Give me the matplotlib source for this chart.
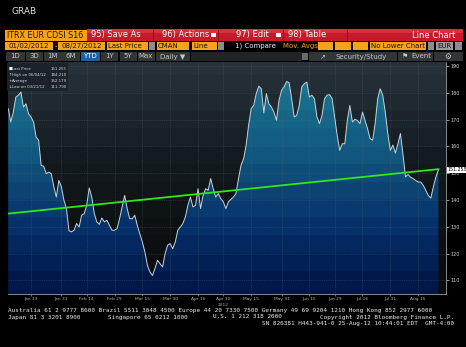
import numpy as np
import pandas as pd
import matplotlib
matplotlib.use("Agg")
import matplotlib.pyplot as plt
from matplotlib.patches import Rectangle, PathPatch
from matplotlib.colors import LinearSegmentedColormap

# ITRX EUR CDSI S16, daily last price, 01/02/2012 - 08/27/2012
dates = pd.bdate_range("2012-01-02", "2012-08-27")
prices = [
    174.1, 169.1, 172.8, 178.4, 179.1, 180.3, 174.7, 175.9, 172.2, 171.0,
    169.1, 163.5, 162.3, 152.9, 152.6, 149.8, 150.4, 149.8, 145.0, 141.1,
    147.3, 144.9, 139.9, 136.8, 128.5, 128.1, 128.7, 131.2, 129.9, 134.3,
    134.9, 138.0, 144.5, 141.1, 134.9, 131.8, 130.9, 133.3, 131.8, 132.4,
    130.5, 128.7, 128.7, 129.3, 133.0, 137.4, 141.7, 136.8, 133.0, 133.0,
    134.3, 130.5, 127.4, 124.3, 120.6, 115.6, 113.1, 111.79, 114.5, 117.5,
    116.2, 115.0, 120.0, 123.1, 123.7, 121.8, 124.3, 128.7, 129.9, 131.2,
    133.7, 138.0, 141.1, 137.4, 138.0, 144.2, 136.8, 141.7, 144.2, 143.6,
    148.0, 144.2, 141.1, 142.4, 140.5, 139.3, 136.8, 139.3, 140.2, 141.1,
    142.4, 148.0, 153.0, 155.4, 160.4, 167.9, 174.1, 175.3, 179.7, 182.5,
    181.5, 172.5, 179.7, 175.9, 174.7, 172.8, 169.7, 177.2, 180.9, 182.2,
    184.21, 183.8, 177.8, 171.0, 171.6, 175.3, 182.2, 183.4, 184.0, 178.4,
    179.1, 177.8, 171.0, 168.5, 171.6, 177.8, 179.1, 179.3, 177.8, 171.0,
    164.1, 158.5, 161.0, 161.0, 169.7, 175.3, 169.1, 170.1, 169.7, 168.5,
    172.8, 169.7, 166.6, 162.9, 162.3, 168.5, 177.8, 181.5, 179.1, 172.8,
    164.8, 158.5, 160.5, 157.5, 161.0, 164.8, 157.0, 148.6, 149.5, 148.5,
    148.0, 147.3, 146.7, 146.7, 145.5, 143.6, 141.7, 140.7, 144.9, 148.6,
    151.255,
]
trend_values = [134.9, 151.5]  # user drawn trend line, first and last day

tick_dates = ["2012-01-13", "2012-01-31", "2012-02-14", "2012-02-29", "2012-03-15",
              "2012-03-30", "2012-04-16", "2012-04-30", "2012-05-15", "2012-05-31",
              "2012-06-15", "2012-06-29", "2012-07-16", "2012-07-31", "2012-08-15"]
tick_labels = ["Jan 13", "Jan 31", "Feb 14", "Feb 29", "Mar 15", "Mar 30", "Apr 16",
               "Apr 30", "May 15", "May 31", "Jun 15", "Jun 29", "Jul 16", "Jul 31",
               "Aug 15"]
y_ticks = [110, 120, 130, 140, 150, 160, 170, 180, 190]

legend_rows = [("Last Price", "151.255"), ("High on 06/04/12", "184.210"),
               ("Average", "152.179"), ("Low on 03/21/12", "111.790")]

W, H = 466, 347
fig = plt.figure(figsize=(W / 100, H / 100), dpi=100, facecolor="black")


def fx(x):
    return x / W


def fy(y):
    return 1 - y / H


def box(x, y, w, h, color):
    fig.add_artist(Rectangle((fx(x), fy(y + h)), w / W, h / H, transform=fig.transFigure,
                             facecolor=color, edgecolor="none"))


def txt(x, y, s, size=6, color="white", ha="left", **kw):
    fig.text(fx(x), fy(y), s, fontsize=size, color=color, ha=ha, va="center", **kw)


ORANGE = "#f8a21c"
RED = "#c41a2b"
GREY_BTN = "#333436"

txt(11, 11, "GRAB", size=6.5, color="#e0e0e0")

# row 1: title + red function bar
box(5, 29.5, 82, 11, ORANGE)
txt(7, 35, "ITRX EUR CDSI S16", size=5.8, color="#1a1a1a")
box(87, 29.5, 376, 11, RED)
box(87, 29.5, 376, 3, "#d8303e")
for sx in [153, 218, 283, 347]:
    box(sx, 29.5, 1, 11, "#8a0f1c")
txt(91, 35, "95) Save As", size=6)
txt(162, 35, "96) Actions", size=6)
txt(236, 35, "97) Edit", size=6)
txt(288, 35, "98) Table", size=6)
txt(455, 35, "Line Chart", size=6, ha="right")
box(211, 33.5, 5, 3, "white")
box(276, 33.5, 5, 3, "white")

# row 2: date range / options
for (x0, x1) in [(5, 53), (58, 105), (107, 148), (157, 189), (192, 217),
                 (318, 333), (335, 351), (353, 368), (370, 426)]:
    box(x0, 41.5, x1 - x0, 8.5, ORANGE)
for (x0, x1) in [(149, 155), (218, 224), (428, 434), (455, 462)]:
    box(x0, 41.5, x1 - x0, 8.5, "#8c8c8c")
box(436, 41.5, 17, 8.5, "#9a9a9a")
txt(29, 46, "01/02/2012", size=5, color="#111111", ha="center")
txt(55.5, 46, "-", size=5, color="white", ha="center")
txt(81.5, 46, "08/27/2012", size=5, color="#111111", ha="center")
txt(108, 46, "Last Price", size=5, color="#111111")
txt(158, 46, "CMAN", size=5, color="#111111")
txt(193, 46, "Line", size=5, color="#111111")
txt(235, 46, "1) Compare", size=5, color="#e8e8e8")
txt(283, 46, "Mov. Avgs", size=5, color=ORANGE)
txt(371, 46, "No Lower Chart", size=5, color="#111111")
txt(444.5, 46, "EUR", size=5, color="#111111", ha="center")

# row 3: period buttons
buttons = [(5, 25, "1D"), (25, 43, "3D"), (43, 62, "1M"), (62, 80, "6M"),
           (80, 100, "YTD"), (100, 119, "1Y"), (119, 137, "5Y"), (137, 155, "Max")]
for x0, x1, lab in buttons:
    box(x0 + 0.5, 52, x1 - x0 - 1, 9, "#1f5f9e" if lab == "YTD" else GREY_BTN)
    txt((x0 + x1) / 2, 56.5, lab, size=5, color="white" if lab == "YTD" else "#c8c8c8",
        ha="center")
box(155.5, 52, 34, 9, GREY_BTN)
txt(160, 56.5, "Daily \u25bc", size=5, color="#c8c8c8")
box(190.5, 52, 111, 9, "#222324")
box(302, 53, 6, 7, "#6a6a6a")
box(308.5, 52, 88, 9, GREY_BTN)
txt(320, 56.5, "\u2197", size=5, color="#c8c8c8")
txt(335, 56.5, "Security/Study", size=5, color="#c8c8c8")
box(397.5, 52, 35, 9, GREY_BTN)
txt(402, 56.5, "\u2691", size=5, color="#c8c8c8")
txt(411, 56.5, "Event", size=5, color="#c8c8c8")
box(433.5, 52, 29, 9, GREY_BTN)
txt(448, 56.5, "\u2699", size=5.5, color="#c8c8c8", ha="center")

# chart
ax = fig.add_axes([fx(8), fy(294), (446 - 8) / W, (294 - 62) / H])
x = np.arange(len(prices))
ymin, ymax = 104.9, 191.5
ax.set_xlim(-0.1, 173)
ax.set_ylim(ymin, ymax)
ax.set_facecolor("black")

levels = np.arange(ymin, ymax, 0.1)
steps = np.floor(levels / 6.67) * 6.67
bg_cmap = LinearSegmentedColormap.from_list(
    "bg", [(0.0, "#0a0c0d"), (0.3, "#0e1214"), (0.55, "#141b20"), (0.8, "#1f2a31"),
           (1.0, "#29353d")])
fill_cmap = LinearSegmentedColormap.from_list(
    "fill", [(0.0, "#021648"), (0.25, "#06306a"), (0.5, "#10507a"), (0.75, "#17698a"),
             (1.0, "#238597")])
norm = (steps - ymin) / (ymax - ymin)
bg = bg_cmap(norm)[:, None, :3]
fg = fill_cmap(norm)[:, None, :3]
extent = [-0.1, 173, ymin, ymax]
ax.imshow(bg, extent=extent, origin="lower", aspect="auto", zorder=0)
poly = ax.fill_between(x, prices, ymin, facecolor="none", edgecolor="none")
clip = PathPatch(poly.get_paths()[0], transform=ax.transData, facecolor="none",
                 edgecolor="none")
ax.add_patch(clip)
im = ax.imshow(fg, extent=extent, origin="lower", aspect="auto", zorder=1)
im.set_clip_path(clip)

tick_pos = [dates.get_loc(pd.Timestamp(d)) for d in tick_dates]
for tp in tick_pos:
    ax.axvline(tp, color="#5a6670", lw=0.4, ls=(0, (2, 2)), alpha=0.6, zorder=2)
for yt in y_ticks:
    ax.axhline(yt, color="#5a6670", lw=0.4, ls=(0, (2, 2)), alpha=0.6, zorder=2)

ax.plot(x, prices, color="#c9d2d8", lw=0.7, zorder=3)
ax.plot([x[0], x[-1]], trend_values, color="#33e61a", lw=1.3, zorder=4)

for s in ["top", "left"]:
    ax.spines[s].set_visible(False)
for s in ["bottom", "right"]:
    ax.spines[s].set_color("#9aa0a4")
    ax.spines[s].set_linewidth(0.6)
ax.yaxis.tick_right()
ax.set_yticks(y_ticks)
ax.set_yticklabels([str(v) for v in y_ticks])
ax.set_xticks(tick_pos)
ax.set_xticklabels(tick_labels)
ax.tick_params(axis="y", colors="#d0d0d0", labelsize=3.5, length=2, width=0.5, pad=1)
ax.tick_params(axis="x", colors="#b0b0b0", labelsize=3.2, length=1.5, width=0.4, pad=0.5)
ax.text(tick_pos[7], -0.047, "2012", transform=ax.get_xaxis_transform(), fontsize=3.2,
        color="#b0b0b0", ha="center", va="center")
ax.text(1.003, prices[-1], "151.255", transform=ax.get_yaxis_transform(), fontsize=3.4,
        color="black", ha="left", va="center",
        bbox=dict(boxstyle="square,pad=0.15", facecolor="white", edgecolor="none"))

# legend box
box(7, 63, 61, 28, "#1b2329")
marks = ["\u25a0", "\u2191", "+", "\u2193"]
for i, (lab, val) in enumerate(legend_rows):
    yy = 69 + i * 5.9
    txt(8.5, yy, marks[i], size=2.8, color="white")
    txt(12, yy, lab, size=2.8, color="#d8d8d8")
    txt(66.5, yy, val, size=2.8, color="#d8d8d8", ha="right")

# footer
mono = dict(family="DejaVu Sans Mono", size=4.3, color="#eeeeee")
txt(8, 310.3, "Australia 61 2 9777 8600 Brazil 5511 3048 4500 Europe 44 20 7330 7500 "
    "Germany 49 69 9204 1210 Hong Kong 852 2977 6000", **mono)
txt(8, 317, "Japan 81 3 3201 8900", **mono)
txt(108, 317, "Singapore 65 6212 1000", **mono)
txt(213, 317, "U.S. 1 212 318 2000", **mono)
txt(454, 317, "Copyright 2012 Bloomberg Finance L.P.", ha="right", **mono)
txt(454, 323.5, "SN 826381 H443-941-0 25-Aug-12 10:44:01 EDT  GMT-4:00", ha="right", **mono)

fig.savefig("out.png", dpi=100, facecolor="black")
